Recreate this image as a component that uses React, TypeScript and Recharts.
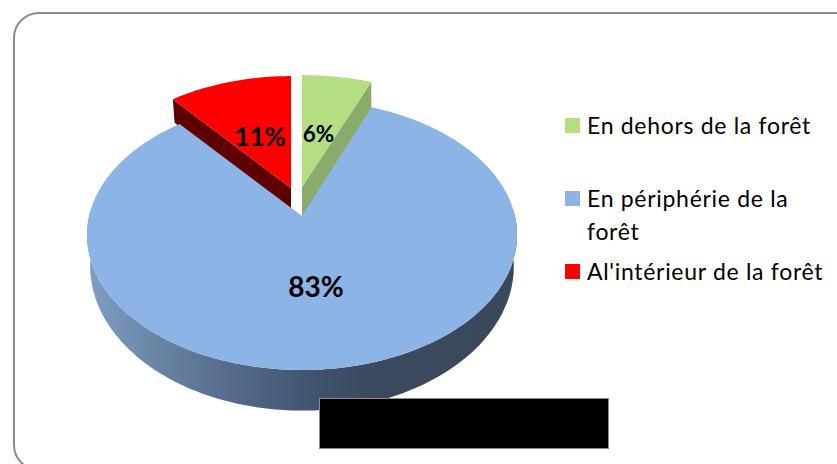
import { PieChart, Pie, Legend } from 'recharts'

// data order follows the draw order: the big slice has to sit on top of the two pulled-out ones
const categories = ['En dehors de la forêt', "Al'intérieur de la forêt", 'En périphérie de la forêt']
const values = [6, 11, 83]
const colors = ['#B3DE81', '#FF0000', '#8CB4E6']
const legendOrder = [0, 2, 1]
const legendLines = [['En dehors de la forêt'], ['En périphérie de la', 'forêt'], ["Al'intérieur de la forêt"]]

const data = categories.map((name, i) => ({ name, value: values[i], fill: colors[i] }))

const FONT = 'Lato, "Open Sans", sans-serif'
const TILT = 0.1407
const SQUASH = 0.6214
const DEPTH = 30
const BASE_SHRINK = 0.985

const pulled: Record<string, { dx: number; dy: number; sx: number; sy: number; deep: number; shrink: number; wall: string }> = {
  [categories[0]]: { dx: 0, dy: -29, sx: 1, sy: 0.965, deep: 1.2, shrink: 1, wall: '#8BAB6C' },
  [categories[1]]: { dx: -11, dy: -28, sx: 0.965, sy: 0.965, deep: 1, shrink: BASE_SHRINK, wall: '#5E0000' },
}

const labelStyle: Record<string, { size: number; nudge: number }> = {
  [categories[0]]: { size: 22.5, nudge: 0 },
  [categories[1]]: { size: 26, nudge: -1 },
  [categories[2]]: { size: 28, nudge: -4 },
}

const rad = (deg: number) => (deg * Math.PI) / 180

// disc seen in perspective: the centre of the pie is not the centre of the ellipse
function project(r: number, t: number, angle: number) {
  const u = t * Math.cos(rad(angle))
  const v = t * Math.sin(rad(angle))
  const w = 1 + TILT * v
  return { x: (r * u) / w, y: (-r * SQUASH * v) / w, depth: DEPTH / (w * w), v }
}

function SliceShape(props: any) {
  const { cx, cy, outerRadius, startAngle, endAngle, fill, name } = props
  const p = pulled[name]
  const ox = cx + (p ? p.dx : 0)
  const oy = cy + (p ? p.dy : 0)
  const sx = p ? p.sx : 1
  const sy = p ? p.sy : 1
  const deep = p ? p.deep : 1
  const shrink = p ? p.shrink : BASE_SHRINK

  const top = (t: number, a: number) => {
    const q = project(outerRadius, t, a)
    return [ox + q.x * sx, oy + q.y * sy] as const
  }
  const bottom = (t: number, a: number) => {
    const q = project(outerRadius, t, a)
    return [ox + q.x * sx * shrink, oy + q.y * sy + q.depth * sy * deep] as const
  }

  const angles: number[] = []
  for (let a = startAngle; a < endAngle; a += 1) angles.push(a)
  angles.push(endAngle)

  const face = angles.map((a) => top(1, a).join(',')).join(' L')
  const facePath = `M${ox},${oy} L${face} Z`

  if (p) {
    const edge = (a: number) =>
      `M${top(0, a).join(',')} L${top(1, a).join(',')} L${bottom(1, a).join(',')} L${bottom(0, a).join(',')} Z`
    return (
      <g>
        <path d={edge(startAngle)} fill={p.wall} />
        <path d={edge(endAngle)} fill={p.wall} />
        <path d={facePath} fill={fill} />
      </g>
    )
  }

  // only the front of the rim can be seen
  const front = angles.filter((a) => project(outerRadius, 1, a).v < 0.05)
  const rim =
    'M' +
    front.map((a) => top(1, a).join(',')).join(' L') +
    ' L' +
    [...front].reverse().map((a) => bottom(1, a).join(',')).join(' L') +
    ' Z'

  return (
    <g>
      <path d={rim} fill="url(#rimShade)" />
      <path d={facePath} fill={fill} />
    </g>
  )
}

function SliceLabel(props: any) {
  const { cx, cy, outerRadius, midAngle, value, name } = props
  const p = pulled[name]
  const q = project(outerRadius, p ? 0.455 : 0.5, midAngle)
  const look = labelStyle[name]
  const x = cx + (p ? p.dx : 0) + q.x * (p ? p.sy : 1) + look.nudge
  const y = cy + (p ? p.dy : 0) + q.y * (p ? p.sy : 1)
  return (
    <text
      x={x}
      y={y}
      textAnchor="middle"
      dominantBaseline="central"
      fill="#000"
      fontFamily={FONT}
      fontWeight={700}
      fontSize={look.size}
    >
      {value}%
    </text>
  )
}

function LegendBlock() {
  const tops = [109, 182, 255]
  return (
    <div
      style={{
        position: 'relative',
        width: 272,
        height: 190,
        fontFamily: FONT,
        fontSize: 23,
        letterSpacing: 0.7,
        lineHeight: '33px',
        color: '#000',
      }}
    >
      {legendOrder.map((idx, i) => (
        <div key={categories[idx]}>
          <div style={{ position: 'absolute', left: 0, top: tops[i] - 91, width: 15, height: 15, background: colors[idx] }} />
          <div style={{ position: 'absolute', left: 22, top: tops[i] - 100, whiteSpace: 'nowrap' }}>
            {legendLines[i].map((line) => (
              <div key={line}>{line}</div>
            ))}
          </div>
        </div>
      ))}
    </div>
  )
}

export default function App() {
  return (
    <div style={{ position: 'absolute', left: 0, top: 0, width: 837, height: 464, overflow: 'hidden', background: '#fff' }}>
      <div
        style={{
          position: 'absolute',
          left: 13,
          top: 12,
          width: 900,
          height: 455,
          border: '2px solid #8C8C8C',
          borderRadius: 26,
        }}
      />
      <PieChart width={837} height={464} margin={{ top: 0, right: 0, bottom: 0, left: 0 }} style={{ position: 'absolute', left: 0, top: 0 }}>
        <defs>
          <linearGradient id="rimShade" gradientUnits="userSpaceOnUse" x1={90} y1={0} x2={512} y2={0}>
            <stop offset="0" stopColor="#7F9DC4" />
            <stop offset="0.18" stopColor="#66829F" />
            <stop offset="0.35" stopColor="#54698A" />
            <stop offset="0.52" stopColor="#42546E" />
            <stop offset="0.65" stopColor="#3B4A60" />
            <stop offset="1" stopColor="#394859" />
          </linearGradient>
        </defs>
        <Pie
          data={data}
          dataKey="value"
          nameKey="name"
          cx={302}
          cy={216}
          outerRadius={212.9}
          startAngle={68.4}
          endAngle={428.4}
          stroke="none"
          shape={SliceShape}
          label={SliceLabel}
          labelLine={false}
          isAnimationActive={false}
        />
        <Legend content={() => <LegendBlock />} wrapperStyle={{ position: 'absolute', left: 565, top: 100, width: 272, height: 190 }} />
      </PieChart>
      <div
        style={{
          position: 'absolute',
          left: 319,
          top: 398,
          width: 288,
          height: 49,
          background: '#000',
          border: '1px solid #8C8C8C',
        }}
      />
    </div>
  )
}
